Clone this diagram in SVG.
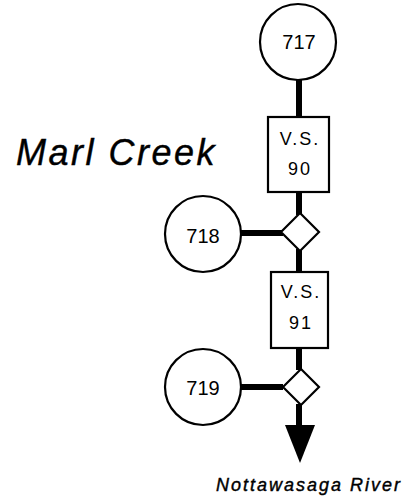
<svg xmlns="http://www.w3.org/2000/svg" width="418" height="502" viewBox="0 0 418 502">
<style>
.node{fill:#fff;stroke:#000;stroke-width:2.2}
.num{font-family:"Liberation Sans",Arial,sans-serif;font-size:20px;text-anchor:middle;fill:#000}
.vs{font-family:"Liberation Sans",Arial,sans-serif;font-size:18px;text-anchor:middle;fill:#000;letter-spacing:2px}
.conn{stroke:#000;stroke-width:6;fill:none}
.title{font-family:"Liberation Sans",Arial,sans-serif;font-style:italic;fill:#000;stroke:#000;stroke-width:0.4}
</style>
<rect width="418" height="502" fill="#fff"/>
<g id="connectors">
<line class="conn" x1="299" y1="79" x2="299" y2="118"/>
<line class="conn" x1="299" y1="191" x2="299" y2="215"/>
<line class="conn" x1="299" y1="249" x2="299" y2="273"/>
<line class="conn" x1="299" y1="347" x2="299" y2="370"/>
<line class="conn" x1="299" y1="404" x2="299" y2="428"/>
<line class="conn" x1="240" y1="233" x2="283" y2="233"/>
<line class="conn" x1="240" y1="387" x2="283" y2="387"/>
<polygon points="285,425 315,425 300,463" fill="#000"/>
</g>
<g id="n717">
<circle class="node" cx="298" cy="42" r="38"/>
<text class="num" x="299" y="49">717</text>
</g>
<g id="vs90">
<rect class="node" x="268" y="117" width="61" height="75"/>
<text class="vs" x="300" y="145">V.S.</text>
<text class="vs" x="300" y="175">90</text>
</g>
<g id="j1">
<polygon class="node" points="300,213 319,232 300,251 281,232"/>
</g>
<g id="n718">
<circle class="node" cx="203" cy="234" r="38"/>
<text class="num" x="203" y="243">718</text>
</g>
<g id="vs91">
<rect class="node" x="271" y="272" width="57" height="76"/>
<text class="vs" x="301" y="298">V.S.</text>
<text class="vs" x="301" y="329">91</text>
</g>
<g id="j2">
<polygon class="node" points="301,369 319,387 301,405 283,387"/>
</g>
<g id="n719">
<circle class="node" cx="203" cy="387" r="38"/>
<text class="num" x="203" y="395">719</text>
</g>
<text class="title" x="16" y="165" font-size="36" letter-spacing="2.5">Marl Creek</text>
<text class="title" x="216" y="491" font-size="18" letter-spacing="2" stroke-width="0.2">Nottawasaga River</text>
</svg>
